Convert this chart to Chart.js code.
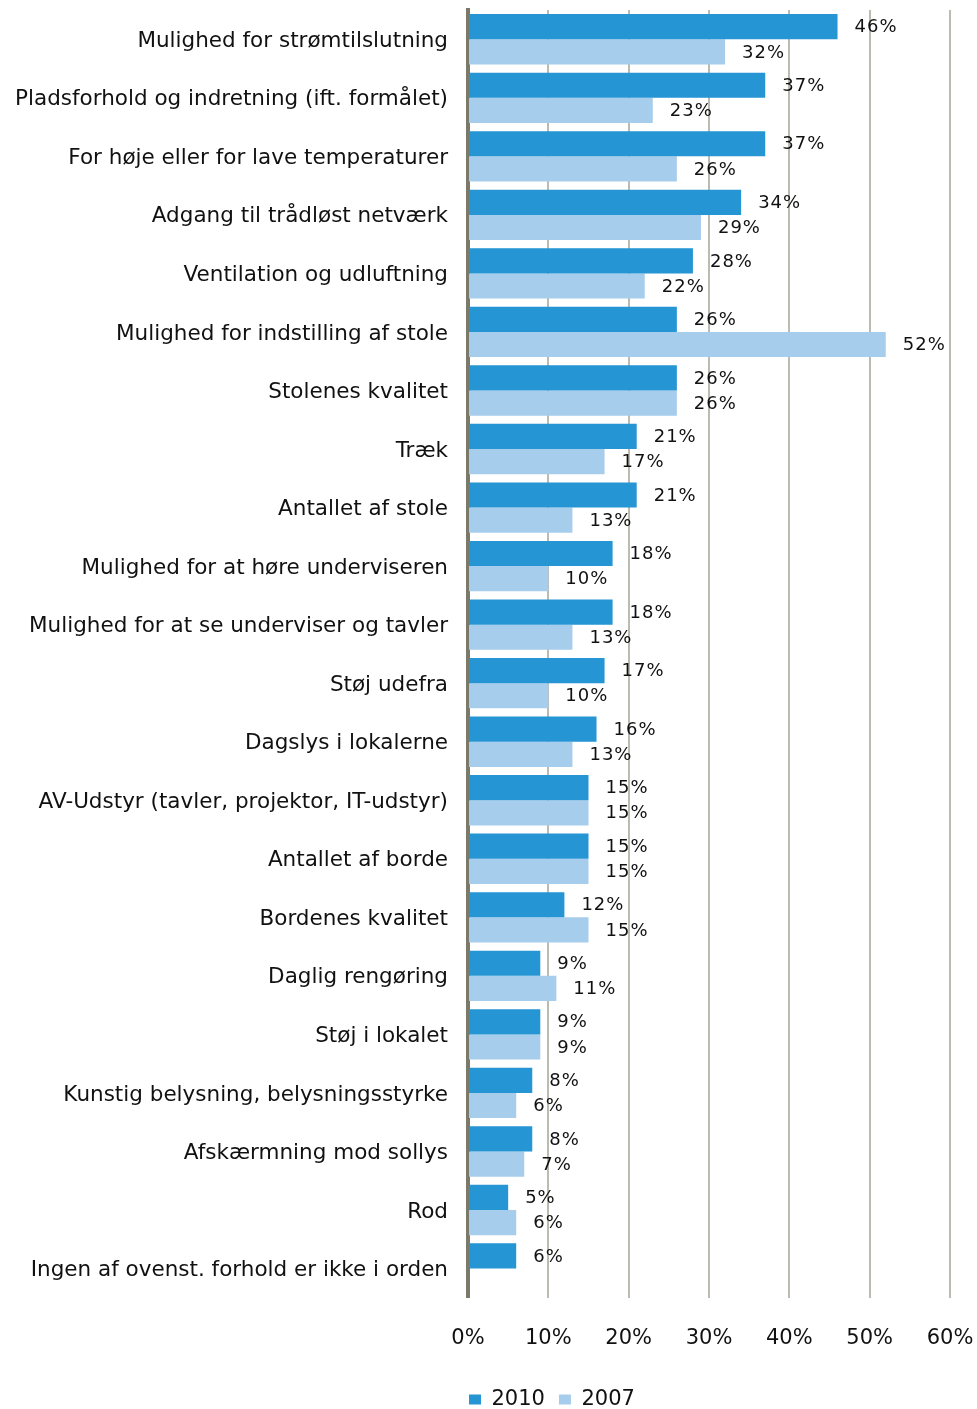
<!DOCTYPE html>
<html lang="da">
<head>
<meta charset="utf-8">
<title>Forhold i undervisningslokalerne 2010 / 2007</title>
<script src="https://cdn.jsdelivr.net/npm/chart.js@4.4.1/dist/chart.umd.min.js"></script>
<style>
  html, body { margin: 0; padding: 0; background: #fff; }
  #wrap { width: 977px; height: 1409px; }
</style>
</head>
<body>
<div id="wrap"><canvas id="chart" width="977" height="1409"></canvas></div>
<script>
// ── data ──
const categories = [
    'Mulighed for strømtilslutning',
    'Pladsforhold og indretning (ift. formålet)',
    'For høje eller for lave temperaturer',
    'Adgang til trådløst netværk',
    'Ventilation og udluftning',
    'Mulighed for indstilling af stole',
    'Stolenes kvalitet',
    'Træk',
    'Antallet af stole',
    'Mulighed for at høre underviseren',
    'Mulighed for at se underviser og tavler',
    'Støj udefra',
    'Dagslys i lokalerne',
    'AV-Udstyr (tavler, projektor, IT-udstyr)',
    'Antallet af borde',
    'Bordenes kvalitet',
    'Daglig rengøring',
    'Støj i lokalet',
    'Kunstig belysning, belysningsstyrke',
    'Afskærmning mod sollys',
    'Rod',
    'Ingen af ovenst. forhold er ikke i orden'
];
const values2010 = [46, 37, 37, 34, 28, 26, 26, 21, 21, 18, 18, 17, 16, 15, 15, 12, 9, 9, 8, 8, 5, 6];
const values2007 = [32, 23, 26, 29, 22, 52, 26, 17, 13, 10, 13, 10, 13, 15, 15, 15, 11, 9, 6, 7, 6, null];
const seriesNames = ['2010', '2007'];
const xTicks = [0, 10, 20, 30, 40, 50, 60];

const FONT = '"DejaVu Sans", Verdana, sans-serif';
const C_2010 = '#2595d4';
const C_2007 = '#a7cdec';

// ── procenttal ved enden af hver søjle ──
const valueLabels = {
    id: 'valueLabels',
    afterDatasetsDraw(chart) {
        const ctx = chart.ctx;
        ctx.save();
        ctx.font = '18px ' + FONT;
        ctx.letterSpacing = '1px';
        ctx.fillStyle = '#111';
        ctx.textAlign = 'left';
        ctx.textBaseline = 'middle';
        chart.data.datasets.forEach((ds, i) => {
            chart.getDatasetMeta(i).data.forEach((bar, j) => {
                const v = ds.data[j];
                if (v === null || v === undefined) return;
                ctx.fillText(v + '%', bar.x + 17, bar.y + 1);
            });
        });
        ctx.restore();
    }
};

// legenden skal starte lige ved y-aksen
const legendShift = {
    id: 'legendShift',
    afterLayout(chart) {
        const lg = chart.legend;
        if (!lg) return;
        lg.left -= 13; lg.right -= 13;
        lg.top -= 4; lg.bottom -= 4;
    }
};

new Chart(document.getElementById('chart').getContext('2d'), {
    type: 'bar',
    data: {
        labels: categories,
        datasets: [
            { label: seriesNames[0], data: values2010, backgroundColor: C_2010 },
            { label: seriesNames[1], data: values2007, backgroundColor: C_2007 }
        ]
    },
    options: {
        indexAxis: 'y',
        responsive: false,
        animation: false,
        devicePixelRatio: 1,
        layout: { padding: { top: 10, right: 27, bottom: -15, left: 2 } },
        datasets: { bar: { categoryPercentage: 0.86, barPercentage: 1.0 } },
        plugins: {
            legend: {
                position: 'bottom',
                align: 'start',
                fullSize: false,
                labels: {
                    color: '#111',
                    font: { family: FONT, size: 21 },
                    boxWidth: 12,
                    boxHeight: 10,
                    padding: 14
                }
            },
            tooltip: { enabled: false }
        },
        scales: {
            x: {
                min: 0,
                max: 60,
                afterBuildTicks: s => { s.ticks = xTicks.map(v => ({ value: v })); },
                afterFit: s => { s.paddingLeft = 0; s.paddingRight = 0; },
                grid: { color: '#bbbbb0', lineWidth: 2, drawTicks: false },
                border: { display: false },
                ticks: {
                    color: '#111',
                    font: { family: FONT, size: 21 },
                    padding: 28,
                    callback: v => v + '%'
                }
            },
            y: {
                grid: { display: false },
                border: { color: '#7b796a', width: 4 },
                afterFit: s => { s.width = 466; s.paddingTop = 0; s.paddingBottom = 0; },
                ticks: {
                    color: '#111',
                    font: { family: FONT, size: 21.5 },
                    padding: 12,
                    labelOffset: 2,
                    autoSkip: false
                }
            }
        }
    },
    plugins: [valueLabels, legendShift]
});
</script>
</body>
</html>
